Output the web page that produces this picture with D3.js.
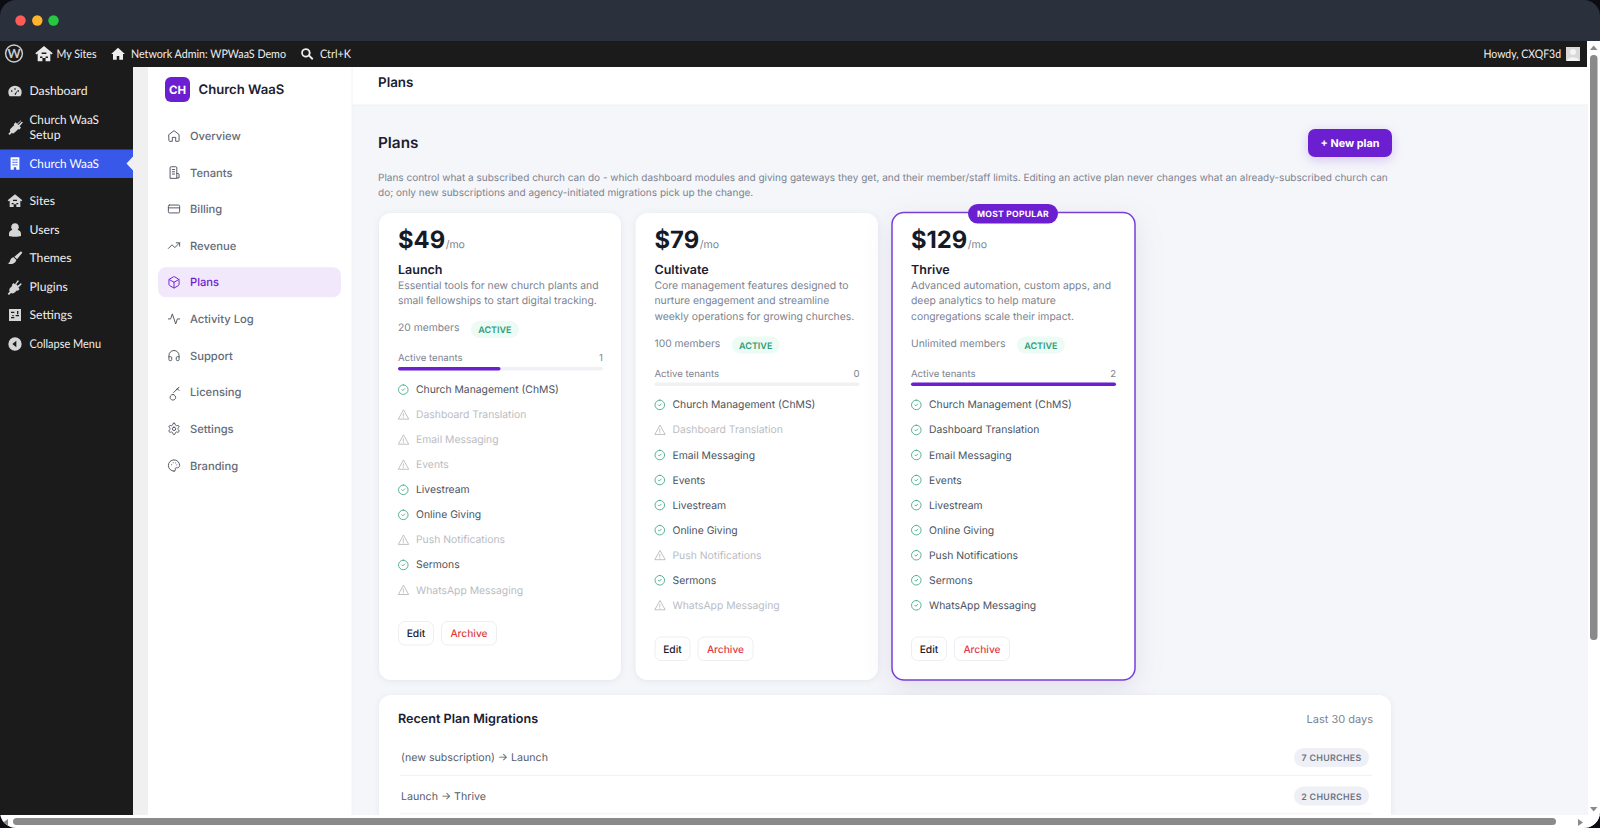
<!DOCTYPE html>
<html><head><meta charset="utf-8">
<script src="https://cdn.jsdelivr.net/npm/d3@7"></script>
<style>
html,body{margin:0;padding:0;background:#0b0d12;overflow:hidden}
svg{display:block}
text{font-family:Inter,"Noto Sans",sans-serif;text-rendering:geometricPrecision}
.wp{font-family:Lato,"Noto Sans",sans-serif}
</style></head><body>
<script>
// ---------- data ----------
const wpMenuLabels = ["Dashboard","Church WaaS Setup","Church WaaS","Sites","Users","Themes","Plugins","Settings","Collapse Menu"];
const navLabels = ["Overview","Tenants","Billing","Revenue","Plans","Activity Log","Support","Licensing","Settings","Branding"];
const planPrices = ["$49","$79","$129"];
const planNames = ["Launch","Cultivate","Thrive"];
const planDescriptions = [
  ["Essential tools for new church plants and","small fellowships to start digital tracking."],
  ["Core management features designed to","nurture engagement and streamline","weekly operations for growing churches."],
  ["Advanced automation, custom apps, and","deep analytics to help mature","congregations scale their impact."]];
const planMembers = ["20 members","100 members","Unlimited members"];
const planStatus = ["ACTIVE","ACTIVE","ACTIVE"];
const planTenants = [1,0,2];
const featureNames = ["Church Management (ChMS)","Dashboard Translation","Email Messaging","Events","Livestream","Online Giving","Push Notifications","Sermons","WhatsApp Messaging"];
const launchFeatures = [1,0,0,0,1,1,0,1,0];
const cultivateFeatures = [1,0,1,1,1,1,0,1,0];
const thriveFeatures = [1,1,1,1,1,1,1,1,1];
const migrationLabels = ["(new subscription) \u2192 Launch","Launch \u2192 Thrive"];
const migrationCounts = [7,2];
const intro = ["Plans control what a subscribed church can do - which dashboard modules and giving gateways they get, and their member/staff limits. Editing an active plan never changes what an already-subscribed church can","do; only new subscriptions and agency-initiated migrations pick up the change."];

// ---------- helpers ----------
const W=1600,H=828, purple="#6b1fd0";
const svg=d3.select("body").append("svg").attr("width",W).attr("height",H);
const defs=svg.append("defs");
defs.append("clipPath").attr("id","win").append("rect").attr("width",W).attr("height",H).attr("rx",16);
defs.append("clipPath").attr("id","view").append("rect").attr("x",133).attr("y",67).attr("width",1455).attr("height",748);
const root=svg.append("g").attr("clip-path","url(#win)");
const R=(p,x,y,w,h,f,r=0)=>p.append("rect").attr("x",x).attr("y",y).attr("width",w).attr("height",h).attr("fill",f).attr("rx",r);
const T=(p,s,x,y,size,fill,weight=400,anchor="start",cls=null,ls=null)=>{const t=p.append("text").text(s).attr("x",x).attr("y",y).attr("font-size",size).attr("fill",fill).attr("font-weight",weight).attr("text-anchor",anchor);if(cls)t.attr("class",cls);if(ls)t.attr("letter-spacing",ls);return t;};
const fit=(t,len)=>t.attr("textLength",len).attr("lengthAdjust","spacingAndGlyphs");
const Icon=(p,d,cx,cy,size,stroke,sw=2)=>p.append("path").attr("d",d).attr("transform",`translate(${cx-size/2},${cy-size/2}) scale(${size/24})`).attr("fill","none").attr("stroke",stroke).attr("stroke-width",sw).attr("stroke-linecap","round").attr("stroke-linejoin","round");
const Fill=(p,d,cx,cy,size,fill)=>p.append("path").attr("d",d).attr("transform",`translate(${cx-size/2},${cy-size/2}) scale(${size/24})`).attr("fill",fill).attr("fill-rule","evenodd");

// ---------- window chrome ----------
R(root,0,0,W,41,"#2a313c");
R(root,0,41,W,26,"#1b1b1b");
[["#fc5b57",20.5],["#fdb52e",37.3],["#27c840",53.5]].forEach(([c,x])=>root.append("circle").attr("cx",x).attr("cy",20.5).attr("r",5.2).attr("fill",c));

const ICON_HOME="M12 2L1 12h3v9h6v-6h4v6h6v-9h3z";
const ICON_SITES="M12 2L1 11l1.5 1.5L4 11.5V21h6v-4h4v4h6v-9.500l1.500 1L23 11z M7 15h3v2H7z M14 15h3v2h-3z M9 10h6v2H9z";
const ICON_SEARCH="M10 2a8 8 0 1 0 4.900 14.300l5.800 5.800 2.300-2.300-5.800-5.800A8 8 0 0 0 10 2z M10 5a5 5 0 1 1 0 10 5 5 0 0 1 0-10z";
root.append("circle").attr("cx",14).attr("cy",53.5).attr("r",8.4).attr("fill","none").attr("stroke","#c8cbd0").attr("stroke-width",1.5);
T(root,"W",14,58,12.500,"#c8cbd0",700,"middle","wp");
Fill(root,ICON_SITES,44,54,19,"#e8e8e8");
fit(T(root,"My Sites",56.500,58,11.800,"#eeeeee",400,"start","wp"),40);
Fill(root,ICON_HOME,118,54,15,"#eeeeee");
fit(T(root,"Network Admin: WPWaaS Demo",131,58,11.800,"#eeeeee",400,"start","wp"),155);
Fill(root,ICON_SEARCH,307,54,14,"#eeeeee");
fit(T(root,"Ctrl+K",320,58,11.800,"#eeeeee",400,"start","wp"),31);
fit(T(root,"Howdy, CXQF3d",1561,58,11.800,"#f0f0f0",400,"end","wp"),77.500);
R(root,1566,47,14,14,"#d9d9d9");
root.append("circle").attr("cx",1573).attr("cy",52).attr("r",3).attr("fill","#f4f4f4");
root.append("path").attr("d","M1567 61c1-5 11-5 12 0z").attr("fill","#f4f4f4");

// ---------- WP left menu ----------
R(root,0,67,133,748,"#1b1b1b");
const wpY=[91,127,163.500,201,230,258,287,315,344];
const wpIcons=[
 "M12 4a10 10 0 0 0-10 10c0 2.500 1 4.500 2 6h16c1-1.500 2-3.500 2-6A10 10 0 0 0 12 4z M11 8h2v2h-2z M6 11h2v2H6z M16 11h2v2h-2z M11 17l5-6-3 7z",
 "M21 2l-6 5-2-2-3 3 1 1-5 5c-2 2-2 3-1 5l-3 3 2 2 3-3c2 1 3 1 5-1l5-5 1 1 3-3-2-2 5-6-2-1-5 5-1-1 5-5z",
 "M5 2h14v20h-5v-4h-4v4H5z M8 5v2h2V5z M11 5v2h2V5z M14 5v2h2V5z M8 9v2h2V9z M11 9v2h2V9z M14 9v2h2V9z M8 13v2h2v-2z M11 13v2h2v-2z M14 13v2h2v-2z",
 ICON_SITES,
 "M12 2a5.500 5.500 0 0 1 4 9.500c3 1 5 3 5 6V21c-3 1.500-15 1.500-18 0v-3.500c0-3 2-5 5-6A5.500 5.500 0 0 1 12 2z",
 "M21 2l2 2-8 10-4-4z M10 11l4 4c-1 3-3 6-9 6-2 0-3 0-4-1 3-1 3-2 4-5 1-2 3-4 5-4z",
 "M16 2l2 1-4 5 2 2 5-4 1 2-5 5 2 2-3 3-1-1-3 3c-2 2-4 2-6 1l-3 3-2-2 3-3c-1-2-1-4 1-6l3-3-1-1 3-3 2 2z",
 "M3 3h18v18H3z M6 7v2h5V7z M13 12v2h5v-2z M6 15v2h5v-2z M15 6v5h2V6z M8 12v2h2v-2z",
 "M12 2a10 10 0 1 0 0 20 10 10 0 0 0 0-20z M14 7v10l-6-5z"];
const wpItems=root.selectAll("g.wpitem").data(wpMenuLabels).join("g").attr("class","wpitem");
R(root.insert("g",".wpitem"),0,149.500,133,28.500,"#3858e9");
root.append("path").attr("d","M133 156.500l-6.500 7 6.500 7z").attr("fill","#f0f0f1");
wpItems.each(function(d,i){
  const g=d3.select(this), y=wpY[i], col=i==2?"#ffffff":"#eeeeee", fs=12.200;
  Fill(g,wpIcons[i],15,y,i==2?15:16,i==2?"#ffffff":"#d5d6d8");
  if(d==="Church WaaS Setup"){
    fit(T(g,"Church WaaS",29.500,y-3.500,fs,col,400,"start","wp"),69.500);
    T(g,"Setup",29.500,y+11.500,fs,col,400,"start","wp");
  } else {
    const t=T(g,d,29.500,y+4,fs,col,400,"start","wp");
    if(d==="Church WaaS") fit(t,69.500);
    if(d==="Collapse Menu") fit(t,71.500);
  }
});

// ---------- app sidebar ----------
const view=root.append("g").attr("clip-path","url(#view)");
R(view,133,66,15,749,"#f0f0f1");
R(view,148,66,204,749,"#ffffff");
R(view,352,66,1236,749,"#f5f6fa");
R(view,352,66,1236,39,"#ffffff");
view.append("line").attr("x1",352).attr("x2",1588).attr("y1",105).attr("y2",105).attr("stroke","#f0f1f5");
view.append("line").attr("x1",352).attr("x2",352).attr("y1",66).attr("y2",815).attr("stroke","#f1f2f5");
R(view,165,77,25,25,purple,6);
T(view,"CH",177.500,93.500,11.500,"#fff",700,"middle");
T(view,"Church WaaS",198.500,94,13.100,"#1b2030",600);
const navIcons=[
 "M3 10l9-7 9 7v11a1 1 0 0 1-1 1h-5v-7h-6v7H4a1 1 0 0 1-1-1z",
 "M5 22V4a2 2 0 0 1 2-2h8a2 2 0 0 1 2 2v18z M17 14h2a2 2 0 0 1 2 2v6h-4 M9 7h4 M9 11h4 M9 15h4",
 "M4 5h16a2 2 0 0 1 2 2v10a2 2 0 0 1-2 2H4a2 2 0 0 1-2-2V7a2 2 0 0 1 2-2z M2 10h20",
 "M22 7l-8.500 8.500-5-5L2 17 M16 7h6v6",
 "M21 8a2 2 0 0 0-1-1.730l-7-4a2 2 0 0 0-2 0l-7 4A2 2 0 0 0 3 8v8a2 2 0 0 0 1 1.730l7 4a2 2 0 0 0 2 0l7-4A2 2 0 0 0 21 16Z M3.300 7l8.700 5 8.700-5 M12 22V12",
 "M22 12h-4l-3 9L9 3l-3 9H2",
 "M3 14h3a2 2 0 0 1 2 2v3a2 2 0 0 1-2 2H5a2 2 0 0 1-2-2v-7a9 9 0 0 1 18 0v7a2 2 0 0 1-2 2h-1a2 2 0 0 1-2-2v-3a2 2 0 0 1 2-2h3",
 "M21 3l-9.600 9.600 M15.500 8.500L19 5 M18 6l3 3 M10 16a5 5 0 1 1-0.001 0z",
 "M12.220 2h-.44a2 2 0 0 0-2 2v.18a2 2 0 0 1-1 1.730l-.43.25a2 2 0 0 1-2 0l-.15-.08a2 2 0 0 0-2.730.73l-.22.38a2 2 0 0 0 .73 2.730l.15.1a2 2 0 0 1 1 1.720v.51a2 2 0 0 1-1 1.740l-.15.09a2 2 0 0 0-.73 2.730l.22.38a2 2 0 0 0 2.730.73l.15-.08a2 2 0 0 1 2 0l.43.25a2 2 0 0 1 1 1.730V20a2 2 0 0 0 2 2h.44a2 2 0 0 0 2-2v-.18a2 2 0 0 1 1-1.730l.43-.25a2 2 0 0 1 2 0l.15.08a2 2 0 0 0 2.730-.73l.22-.39a2 2 0 0 0-.73-2.730l-.15-.08a2 2 0 0 1-1-1.740v-.5a2 2 0 0 1 1-1.740l.15-.09a2 2 0 0 0 .73-2.730l-.22-.38a2 2 0 0 0-2.730-.73l-.15.08a2 2 0 0 1-2 0l-.43-.25a2 2 0 0 1-1-1.730V4a2 2 0 0 0-2-2z M12 9a3 3 0 1 0 0 6 3 3 0 0 0 0-6z",
 "M12 22a10 10 0 1 1 10-10c0 2.500-2 4-4 4h-2a2 2 0 0 0-1.500 3.300c.5.7.2 2.700-2.500 2.700z M7.500 10.500h.01 M10.500 7h.01 M15 7.500h.01 M17 11h.01"];
const navY=d3.scaleLinear().domain([0,navLabels.length-1]).range([135.700,465.500]);
const navItems=view.selectAll("g.nav").data(navLabels).join("g").attr("class","nav");
navItems.each(function(d,i){
  const g=d3.select(this), y=navY(i), on=d==="Plans", c=on?"#6b1fd0":"#646b78";
  if(on) R(g,158,y-15,183,30,"#f1e9fb",8);
  Icon(g,navIcons[i],174,y,13.500,on?"#6b1fd0":"#4f5561",1.700);
  T(g,d,190,y+4.200,11.200,c,500);
});

// ---------- main header ----------
T(view,"Plans",378,86.500,13.400,"#1b2030",600);
T(view,"Plans",378,148,15.300,"#1b2030",600);
intro.forEach((s,i)=>T(view,s,378,181+i*15.300,10.020,"#7c8391",400));
view.append("rect").attr("x",1308).attr("y",129).attr("width",84).attr("height",28).attr("rx",7).attr("fill",purple).style("filter","drop-shadow(0 3px 6px rgba(107,31,208,.22))");
T(view,"+ New plan",1350,147.300,10.800,"#fff",700,"middle");

// ---------- plan cards ----------
const cardX=d3.scaleOrdinal().domain(planNames).range([379,635.500,892]);
const cardW=d3.scaleOrdinal().domain(planNames).range([242,242.500,243]);
const featureSets=[launchFeatures,cultivateFeatures,thriveFeatures];
const tenantScale=d3.scaleLinear().domain([0,d3.max(planTenants)]).range([0,205]);
const cards=view.selectAll("g.card").data(planNames).join("g").attr("class","card");
cards.each(function(name,i){
  const g=d3.select(this), x0=cardX(name), w=cardW(name), px=x0+19;
  const popular=i==2;
  g.append("rect").attr("x",x0).attr("y",popular?212.500:213).attr("width",w).attr("height",popular?467.500:467).attr("rx",12)
   .attr("fill","#fff").attr("stroke",popular?"#7a3ed8":"none").attr("stroke-width",popular?1.500:0)
   .style("filter",popular?"drop-shadow(0 8px 14px rgba(80,60,140,.12))":"drop-shadow(0 1px 3px rgba(30,40,70,.08))");
  if(popular){
    R(g,968,204,90,19.500,purple,9.700);
    T(g,"MOST POPULAR",1013,216.800,8.600,"#fff",700,"middle",null,"0.25");
  }
  const pr=T(g,planPrices[i],px,248,23.800,"#141a28",700);
  const prW=pr.node().getComputedTextLength();
  T(g,"/mo",px+prW+0.500,247.500,10.500,"#7c8391",400);
  T(g,name,px,274,12.500,"#1b2030",600);
  const ds=planDescriptions[i];
  ds.forEach((s,k)=>T(g,s,px,289+k*15.300,10.370,"#7c8391",400));
  const dy=(ds.length-2)*15.500;
  const mem=T(g,planMembers[i],px,331+dy,10.300,"#7c8391",400);
  const mw=mem.node().getComputedTextLength();
  const bx=px+mw+11.500;
  R(g,bx,321+dy,48,17,"#ecfbf4",8.500);
  T(g,planStatus[i],bx+24,333.300+dy,9,"#2f9e78",600,"middle");
  T(g,"Active tenants",px,361+dy,9.600,"#7c8391",400);
  T(g,String(planTenants[i]),px+205,361+dy,9.600,"#7c8391",400,"end");
  R(g,px,367+dy,205,3.500,"#f0f1f4",1.750);
  if(planTenants[i]>0) R(g,px,367+dy,tenantScale(planTenants[i]),3.500,purple,1.750);
  const fy=ds.length>2?15.300:0;
  featureNames.forEach((f,k)=>{
    const y=389.100+fy+k*25.050, on=featureSets[i][k]===1;
    if(on) Icon(g,"M12 2a10 10 0 1 0 0 20 10 10 0 0 0 0-20z M9 12l2 2 4-4",px+5.300,y+0.500,11.500,"#49ae86",1.900);
    else Icon(g,"M12 3L2 21h20z M12 10v5 M12 17.500v.5",px+5.300,y+0.500,12,"#b3b6bc",1.700);
    T(g,f,px+18,y+4,10.370,on?"#4b5361":"#babdc4",400);
  });
  const by=621+dy;
  g.append("rect").attr("x",px+.5).attr("y",by+.5).attr("width",35).attr("height",23.500).attr("rx",6).attr("fill","#fff").attr("stroke","#eceef2");
  T(g,"Edit",px+18,by+16,10.300,"#1b2030",500,"middle");
  g.append("rect").attr("x",px+43.500).attr("y",by+.5).attr("width",55).attr("height",23.500).attr("rx",6).attr("fill","#fff").attr("stroke","#eceef2");
  T(g,"Archive",px+71,by+16,10.200,"#e23b42",500,"middle");
});

// ---------- migrations ----------
view.append("rect").attr("x",379).attr("y",695).attr("width",1012).attr("height",160).attr("rx",12).attr("fill","#fff").style("filter","drop-shadow(0 1px 3px rgba(30,40,70,.07))");
T(view,"Recent Plan Migrations",398,722.700,12.600,"#1b2030",600);
T(view,"Last 30 days",1373,723,11,"#7c8391",400,"end");
const rowY=d3.scaleLinear().domain([0,1]).range([761,799.500]);
migrationLabels.forEach((s,i)=>{
  const y=rowY(i);
  T(view,s,401,y,10.650,"#565d6b",400);
  view.append("line").attr("x1",400).attr("x2",1372).attr("y1",y+14.300).attr("y2",y+14.300).attr("stroke","#f0f1f4");
  R(view,1294,y-13,75,19,"#eef0f5",9.500);
  T(view,migrationCounts[i]+" CHURCHES",1331.500,y+0.300,8.800,"#6c7382",600,"middle",null,"0.35");
});

// ---------- scrollbars ----------
R(root,1588,67,12,761,"#ffffff");
R(root,1587,41,13,26,"#ffffff");
R(root,0,815,W,13,"#ffffff");
R(root,1590,55,7.500,585,"#8a8a8a",3.500);
root.append("path").attr("d","M1590 50l3.700-4.500 3.800 4.500z").attr("fill","#8a8a8a");
root.append("path").attr("d","M1590 807l3.700 4.500 3.800-4.500z").attr("fill","#8a8a8a");
R(root,13,818,1543,7,"#8a8a8a",3.500);
root.append("path").attr("d","M1578 819l5 3.500-5 3.500z").attr("fill","#8a8a8a");
root.append("path").attr("d","M8 819l-5 3.500 5 3.500z").attr("fill","#8a8a8a");
</script></body></html>
